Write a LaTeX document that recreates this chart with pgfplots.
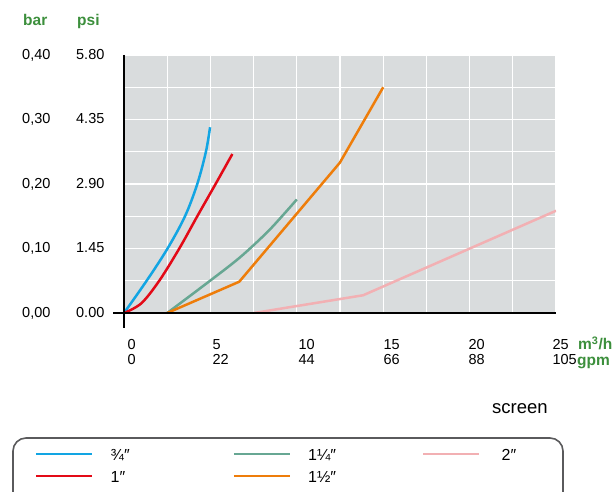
\documentclass[border=0pt]{standalone}
\usepackage{pgfplots}
\pgfplotsset{compat=1.18}
\usepackage{fontspec}
\setmainfont{Liberation Sans}
\definecolor{cblue}{HTML}{12A5E3}
\definecolor{cred}{HTML}{E30A17}
\definecolor{cgreen}{HTML}{67A793}
\definecolor{corange}{HTML}{EE7D0A}
\definecolor{cpink}{HTML}{F2B0B3}
\definecolor{bg}{HTML}{D9DCDD}
\definecolor{hdr}{HTML}{3C8F3C}
\definecolor{boxc}{HTML}{5A5A5C}
\begin{document}
\begin{tikzpicture}
\path[use as bounding box] (0pt,0pt) rectangle (616pt,491pt);
\begin{axis}[
  at={(124pt,178pt)}, anchor=south west,
  scale only axis, width=432pt, height=258pt,
  xmin=0, xmax=25, ymin=0, ymax=0.4,
  axis line style={draw=none},
  axis background/.style={fill=bg},
  xtick={0,5,10,15,20,25},
  minor xtick={2.5,7.5,12.5,17.5,22.5},
  ytick={0,0.1,0.2,0.3,0.4},
  minor ytick={0.05,0.15,0.25,0.35},
  major tick length=0pt, minor tick length=0pt,
  grid=both,
  major grid style={white, line width=1.3pt},
  minor grid style={white, line width=1.3pt},
  /pgf/number format/assume math mode=true,
  xticklabels={{\kern3.4pt 0\\\kern3.4pt 0},{\kern2pt 5\\\kern2pt 22},{\kern1.6pt 10\\\kern1.6pt 44},{\kern0.2pt 15\\\kern0.2pt 66},{\kern-1.2pt 20\\\kern-1.2pt 88},{\kern-3.6pt 25\\\kern-3.6pt 105}},
  xticklabel style={align=left, anchor=north west, inner sep=0pt, yshift=-26pt, font=\fontsize{14.5}{15.5}\selectfont},
  yticklabels={{\makebox[54pt][l]{0,00}0.00},{\makebox[54pt][l]{0,10}1.45},{\makebox[54pt][l]{0,20}2.90},{\makebox[54pt][l]{0,30}4.35},{\makebox[54pt][l]{0,40}5.80}},
  yticklabel style={anchor=west, inner sep=0pt, xshift=-102pt, font=\fontsize{14.5}{16}\selectfont},
  legend columns=3,
  legend style={at={(-0.20602,-0.52597)}, anchor=north west, draw=none, fill=none, inner sep=0pt,
    row sep=6pt, font=\fontsize{16}{18}\selectfont,
    nodes={anchor=base west, inner sep=0pt, text height=12pt, text depth=4pt}},
  legend image code/.code={\draw[#1, line width=2.5pt] (0pt,7pt) -- (56pt,7pt); \path (73pt,0pt);},
  every axis plot/.append style={line width=2.5pt},
]
\addplot[cblue, smooth, tension=0.55] coordinates {(0,0) (1.31,0.05) (2.52,0.1) (3.53,0.15) (4.24,0.2) (4.74,0.25) (4.98,0.288)};
\addlegendentry{\makebox[122pt][l]{¾″}}
\addplot[cgreen, smooth, tension=0.55] coordinates {(2.5,0) (4.98,0.05) (6.7,0.086) (8.24,0.124) (9.21,0.152) (10.0,0.176)};
\addlegendentry{\makebox[114pt][l]{1¼″}}
\addplot[cpink] coordinates {(7.52,0) (13.84,0.0275) (25,0.1585)};
\addlegendentry{\hspace*{4pt}2″}
\addplot[cred, smooth, tension=0.55] coordinates {(0,0) (1.0,0.015) (2.04,0.05) (3.2,0.1) (4.24,0.15) (5.3,0.2) (6.27,0.2465)};
\addlegendentry{\makebox[122pt][l]{1″}}
\addplot[corange] coordinates {(2.5,0) (6.67,0.0485) (12.49,0.233) (15.0,0.35)};
\addlegendentry{\makebox[114pt][l]{1½″}}
\end{axis}
% axis lines
\draw[line width=2.8pt] (124pt,436pt) -- (124pt,163pt);
\draw[line width=2.8pt] (113pt,178pt) -- (556pt,178pt);
% unit headers
\node[anchor=base west, inner sep=0pt, text=hdr, font=\fontsize{15.5}{16}\selectfont\bfseries] at (23pt,465pt) {bar};
\node[anchor=base west, inner sep=0pt, text=hdr, font=\fontsize{15.5}{16}\selectfont\bfseries] at (77pt,465pt) {psi};
\node[anchor=base west, inner sep=0pt, text=hdr, font=\fontsize{15.5}{16}\selectfont\bfseries] at (578pt,141.5pt) {m\textsuperscript{3}/h};
\node[anchor=base west, inner sep=0pt, text=hdr, font=\fontsize{15.5}{16}\selectfont\bfseries] at (577pt,126pt) {gpm};
\node[anchor=base west, inner sep=0pt, font=\fontsize{18.5}{20}\selectfont] at (492pt,78pt) {screen};
% legend frame
\draw[boxc, line width=1.6pt, rounded corners=13pt] (13pt,53pt) rectangle (563pt,-30pt);
\end{tikzpicture}
\end{document}
